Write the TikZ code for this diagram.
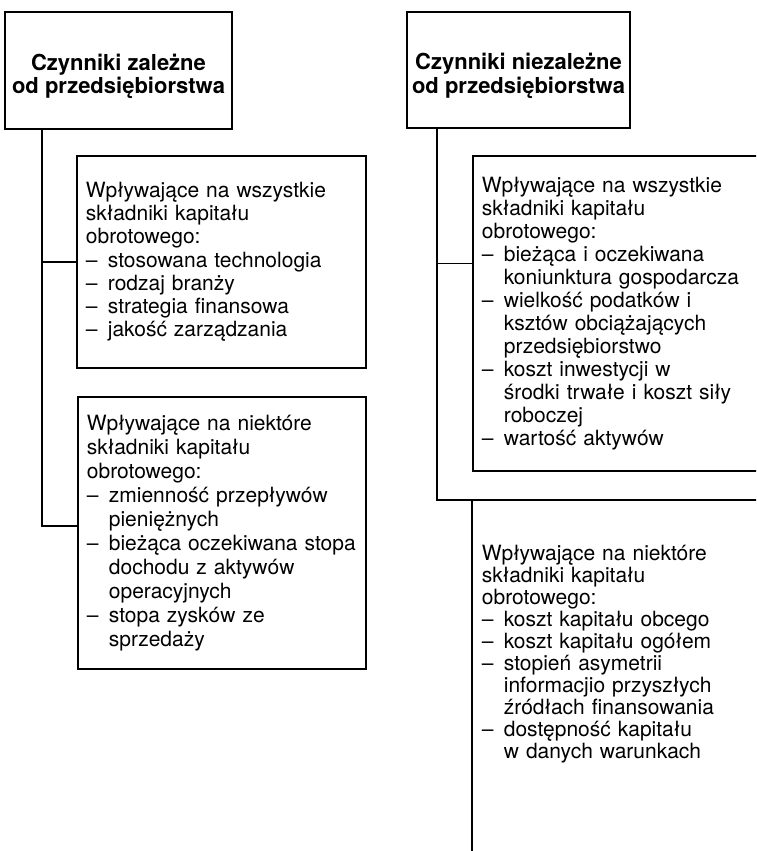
\documentclass[tikz,border=0pt]{standalone}
\usepackage{fontspec}
\setmainfont{TeX Gyre Heros}
\newcommand{\pkt}{\makebox[11pt][l]{–}}
\newcommand{\wc}{\hspace*{11pt}}
\begin{document}
\begin{tikzpicture}[x=0.5pt, y=-0.5pt,
  tytul/.style={draw, line width=0.9pt, align=center, inner sep=0pt,
    font=\bfseries\fontsize{11}{10.5}\selectfont},
  ramka/.style={draw, line width=0.9pt, align=left, anchor=north west,
    inner xsep=4.5pt, inner ysep=0pt, font=\fontsize{10.5}{11.5}\selectfont},
  linia/.style={line width=0.9pt}]
\useasboundingbox (0,0) rectangle (756,851);
\clip (0,0) rectangle (756,851);

% lewa strona
\node[tytul, minimum width=113.5pt, minimum height=58.5pt] (ltytul) at (118.5,70.5)
  {\rule{0pt}{14pt}Czynniki zależne\\od przedsiębiorstwa};
\node[ramka, text width=135.5pt, minimum height=106pt,
  font=\fontsize{10.5}{11.6}\selectfont] (lbox1) at (76,155)
  {Wpływające na wszystkie\\składniki kapitału\\obrotowego:\\
   \pkt stosowana technologia\\\pkt rodzaj branży\\\pkt strategia finansowa\\
   \pkt jakość zarządzania};
\node[ramka, text width=135pt, minimum height=136pt,
  font=\fontsize{10.5}{12}\selectfont] (lbox2) at (77,396)
  {Wpływające na niektóre\\składniki kapitału\\obrotowego:\\
   \pkt zmienność przepływów\\\wc pieniężnych\\
   \pkt bieżąca oczekiwana stopa\\\wc dochodu z aktywów\\\wc operacyjnych\\
   \pkt stopa zysków ze\\\wc sprzedaży};
\coordinate (lpion) at ([xshift=19pt]ltytul.south west);
\draw[linia] (lpion) |- ([yshift=3.5pt]lbox2.west);
\draw[linia] (lbox1.west) -- (lbox1.west -| lpion);

% prawa strona
\node[tytul, minimum width=111.5pt, minimum height=58pt] (rtytul) at (518.5,70)
  {\rule{0pt}{14pt}Czynniki niezależne\\od przedsiębiorstwa};
\node[ramka, text width=150pt, minimum height=157.5pt] (rbox1) at (472,155)
  {Wpływające na wszystkie\\składniki kapitału\\obrotowego:\\
   \pkt bieżąca i oczekiwana\\\wc koniunktura gospodarcza\\
   \pkt wielkość podatków i\\\wc ksztów obciążających\\\wc przedsiębiorstwo\\
   \pkt koszt inwestycji w\\\wc środki trwałe i koszt siły\\\wc roboczej\\
   \pkt wartość aktywów};
\node[ramka, draw=none, text width=150pt, minimum height=153.5pt,
  font=\fontsize{10.5}{11}\selectfont] (rbox2) at (472,500)
  {Wpływające na niektóre\\składniki kapitału\\obrotowego:\\
   \pkt koszt kapitału obcego\\\pkt koszt kapitału ogółem\\
   \pkt stopień asymetrii\\\wc informacjio przyszłych\\\wc źródłach finansowania\\
   \pkt dostępność kapitału\\\wc w danych warunkach};
\coordinate (dol) at (0,900);
\draw[linia] (rbox2.north east) -- (rbox2.north west) -- (rbox2.north west |- dol);
\coordinate (rpion) at ([xshift=15.5pt]rtytul.south west);
\coordinate (rwej) at ([yshift=25pt]rbox1.west);
\draw[linia] (rpion) |- (rbox2.north west);
\draw[linia] (rwej) -- (rwej -| rpion);
\end{tikzpicture}
\end{document}
